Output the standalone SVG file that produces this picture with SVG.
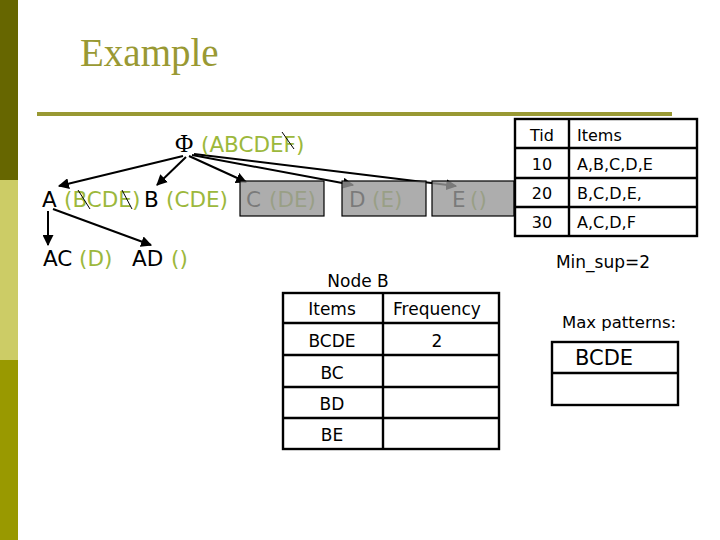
<svg xmlns="http://www.w3.org/2000/svg" width="720" height="540" viewBox="0 0 720 540">
<defs>
<style>
.t{font-family:"DejaVu Sans",Verdana,sans-serif;fill:#000}
.g{fill:#9cb83c}
.tr{font-size:21.5px}
.tb{font-size:16px}
.nb{font-size:17px}
.cell{fill:none;stroke:#000;stroke-width:2.4}
.conn{stroke:#000;stroke-width:2;fill:none;marker-end:url(#ah)}
.slash{stroke:#000;stroke-width:1}
.cover{fill:#999;fill-opacity:0.8;stroke:#000;stroke-width:1.2}
</style>
<marker id="ah" viewBox="0 0 10 10" refX="9" refY="5" markerWidth="5.5" markerHeight="5.5" orient="auto" markerUnits="strokeWidth">
<path d="M0,0 L10,5 L0,10 z" fill="#000"/>
</marker>
</defs>
<rect width="720" height="540" fill="#fff"/>
<rect x="0" y="0" width="18" height="180" fill="#666600"/>
<rect x="0" y="180" width="18" height="180" fill="#cccc66"/>
<rect x="0" y="360" width="18" height="180" fill="#999900"/>
<text x="80" y="66" font-family="Liberation Serif,Times New Roman,serif" font-size="39" fill="#999933">Example</text>
<rect x="37" y="112" width="635" height="4" fill="#999933"/>

<g id="connectors">
<line class="conn" x1="183" y1="156" x2="59" y2="186"/>
<line class="conn" x1="186" y1="157" x2="157" y2="185"/>
<line class="conn" x1="189" y1="156" x2="246" y2="182"/>
<line class="conn" x1="192" y1="155" x2="353" y2="185"/>
<line class="conn" x1="194" y1="154" x2="456" y2="186"/>
<line class="conn" x1="48" y1="211" x2="48" y2="245"/>
<line class="conn" x1="53" y1="209" x2="151" y2="245"/>
</g>

<g id="node-root">
<text x="175" y="152" font-family="Liberation Serif,serif" font-size="25">Φ</text>
<text x="201" y="152" class="t tr g">(ABCDEF)</text>
<line class="slash" x1="282" y1="132" x2="294" y2="149"/>
</g>
<g id="node-A">
<text x="42" y="207" class="t tr">A</text>
<text x="64" y="207" class="t tr g">(BCDE)</text>
<line class="slash" x1="78" y1="190" x2="90" y2="209"/>
<line class="slash" x1="122" y1="190" x2="132" y2="209"/>
</g>
<g id="node-B">
<text x="144" y="207" class="t tr">B</text>
<text x="166" y="207" class="t tr g">(CDE)</text>
</g>
<g id="node-C">
<text x="246" y="207" class="t tr">C</text>
<text x="269" y="207" class="t tr g">(DE)</text>
<rect class="cover" x="240" y="181" width="84" height="35"/>
</g>
<g id="node-D">
<text x="349" y="207" class="t tr">D</text>
<text x="372" y="207" class="t tr g">(E)</text>
<rect class="cover" x="342" y="181" width="84" height="35"/>
</g>
<g id="node-E">
<text x="452" y="207" class="t tr">E</text>
<text x="470" y="207" class="t tr g">()</text>
<rect class="cover" x="432" y="181" width="82" height="35"/>
</g>
<g id="node-AC">
<text x="43" y="266" class="t tr">AC</text>
<text x="79" y="266" class="t tr g">(D)</text>
</g>
<g id="node-AD">
<text x="132" y="266" class="t tr">AD</text>
<text x="171" y="266" class="t tr g">()</text>
</g>

<g id="tdb-table">
<rect class="cell" x="515" y="119" width="182" height="117"/>
<line class="cell" x1="515" y1="148" x2="697" y2="148"/>
<line class="cell" x1="515" y1="178" x2="697" y2="178"/>
<line class="cell" x1="515" y1="207" x2="697" y2="207"/>
<line class="cell" x1="569" y1="119" x2="569" y2="236"/>
<g class="t tb">
<text x="542" y="141" text-anchor="middle">Tid</text>
<text x="577" y="141">Items</text>
<text x="542" y="170" text-anchor="middle">10</text>
<text x="577" y="170">A,B,C,D,E</text>
<text x="542" y="199" text-anchor="middle">20</text>
<text x="577" y="199">B,C,D,E,</text>
<text x="542" y="228" text-anchor="middle">30</text>
<text x="577" y="228">A,C,D,F</text>
</g>
</g>
<text x="603" y="268" class="t" font-size="17" text-anchor="middle">Min_sup=2</text>

<text x="358" y="287" class="t" font-size="17" text-anchor="middle">Node B</text>
<g id="nodeB-table">
<rect class="cell" x="283" y="293" width="216" height="156"/>
<line class="cell" x1="283" y1="323" x2="499" y2="323"/>
<line class="cell" x1="283" y1="355" x2="499" y2="355"/>
<line class="cell" x1="283" y1="387" x2="499" y2="387"/>
<line class="cell" x1="283" y1="418" x2="499" y2="418"/>
<line class="cell" x1="383" y1="293" x2="383" y2="449"/>
<g class="t nb" text-anchor="middle">
<text x="332" y="315">Items</text>
<text x="437" y="315">Frequency</text>
<text x="332" y="347">BCDE</text>
<text x="437" y="347">2</text>
<text x="332" y="379">BC</text>
<text x="332" y="410">BD</text>
<text x="332" y="441">BE</text>
</g>
</g>

<text x="619" y="328" class="t" font-size="16.5" text-anchor="middle">Max patterns:</text>
<g id="max-table">
<rect class="cell" x="552" y="342" width="126" height="63"/>
<line class="cell" x1="552" y1="373" x2="678" y2="373"/>
<text x="575" y="365" class="t" font-size="21">BCDE</text>
</g>
</svg>
